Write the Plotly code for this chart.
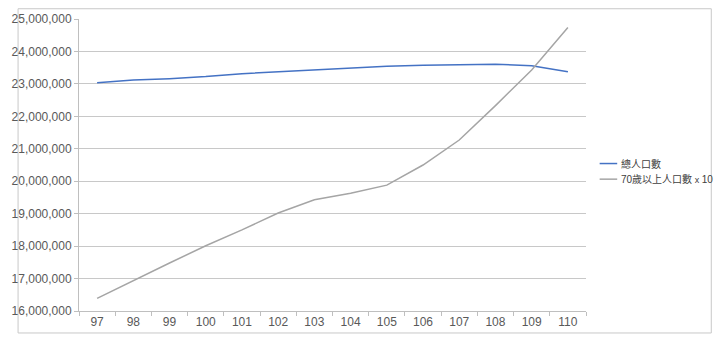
import plotly.graph_objects as go

years = ["97", "98", "99", "100", "101", "102", "103", "104", "105", "106", "107", "108", "109", "110"]
total_pop = [23037031, 23119772, 23162123, 23224912, 23315822, 23373517, 23433753,
             23492074, 23539816, 23571227, 23588932, 23603121, 23561236, 23375314]
elder_x10 = [16390000, 16940000, 17480000, 18010000, 18500000, 19020000, 19430000,
             19630000, 19880000, 20500000, 21270000, 22330000, 23430000, 24740000]
names = ["總人口數", "70歲以上人口數<span style='font-size:9px'> x </span>10"]
colors = ["#4472C4", "#A5A5A5"]
y_ticks = list(range(16000000, 25000001, 1000000))

W, H = 720, 341
L, R, T, B = 66, 586, 14, 313

fig = go.Figure()
for vals, nm, col in zip([total_pop, elder_x10], ["總人口數", "70歲以上人口數 x 10"], colors):
    fig.add_trace(go.Scatter(x=years, y=vals, mode="lines", name=nm,
                             line=dict(color=col, width=1.5)))

font_family = "Liberation Sans Narrow, Liberation Sans, Noto Sans CJK TC, sans-serif"

def px(xp):
    return (xp - L) / (R - L)

def py(yp):
    return (B - yp) / (B - T)

shapes = [dict(type="rect", xref="paper", yref="paper",
               x0=px(3.5), x1=px(714.5), y0=py(335.5), y1=py(3.5),
               line=dict(color="#C8C8C8", width=1), fillcolor="rgba(0,0,0,0)",
               layer="below")]
annotations = []
leg_y = [162, 178]
for nm, col, yy in zip(names, colors, leg_y):
    shapes.append(dict(type="line", xref="paper", yref="paper",
                       x0=px(600), x1=px(618), y0=py(yy), y1=py(yy),
                       line=dict(color=col, width=1.5)))
    annotations.append(dict(xref="paper", yref="paper", x=px(620), y=py(yy),
                            xanchor="left", yanchor="middle", text=nm, showarrow=False,
                            font=dict(family="Liberation Sans, Noto Sans CJK TC, sans-serif",
                                      size=10, color="#404040")))

fig.update_layout(
    width=W, height=H,
    margin=dict(l=L, r=W - R, t=T, b=H - B),
    paper_bgcolor="white", plot_bgcolor="white",
    font=dict(family=font_family, size=12, color="#595959"),
    showlegend=False,
    xaxis=dict(type="category", range=[-0.5, 13.5], showgrid=False, showline=True,
               linecolor="#BFBFBF", linewidth=1, ticks="outside", ticklen=4,
               tickcolor="#BFBFBF", tickson="boundaries",
               tickfont=dict(size=12, color="#595959"), fixedrange=True),
    yaxis=dict(range=[16000000, 25000000], tickvals=y_ticks, tickformat=",d",
               showgrid=True, gridcolor="#C8C8C8", gridwidth=1, showline=True,
               linecolor="#BFBFBF", ticks="outside", ticklen=4, tickcolor="#BFBFBF",
               zeroline=False, tickfont=dict(size=12, color="#595959"),
               fixedrange=True),
    shapes=shapes,
    annotations=annotations,
)

fig.write_html("out.html")
